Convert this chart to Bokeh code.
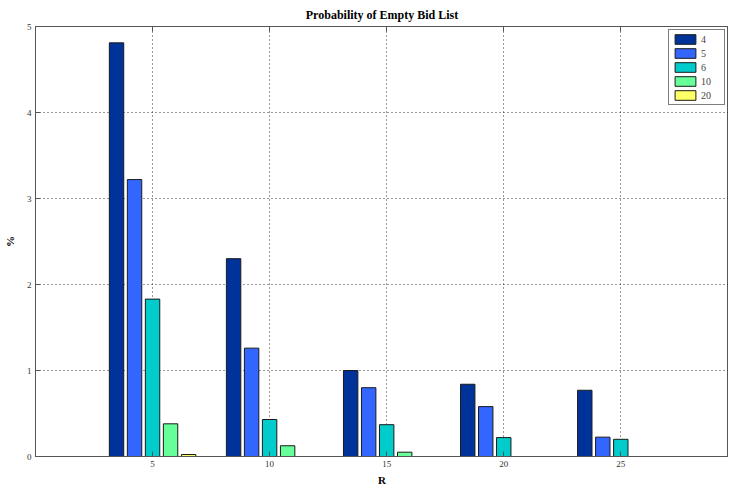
from bokeh.plotting import figure
from bokeh.models import ColumnDataSource, Range1d, FixedTicker, LinearAxis, Legend, LegendItem
from bokeh.embed import file_html
from bokeh.resources import INLINE

# Data
R_values = [5, 10, 15, 20, 25]
series_names = ["4", "5", "6", "10", "20"]
s4 = [4.81, 2.30, 1.00, 0.84, 0.77]
s5 = [3.22, 1.26, 0.80, 0.58, 0.225]
s6 = [1.83, 0.43, 0.37, 0.22, 0.20]
s10 = [0.38, 0.125, 0.05, 0.0, 0.0]
s20 = [0.023, 0.0, 0.0, 0.0, 0.0]
series_values = [s4, s5, s6, s10, s20]
colors = ["#00339A", "#3366FF", "#00CCCC", "#66FF99", "#FFFF66"]
x_ticks = [5, 10, 15, 20, 25]
y_ticks = [0, 1, 2, 3, 4, 5]

serif = "Liberation Serif"

p = figure(width=728, height=488, output_backend="svg", toolbar_location=None,
           x_range=Range1d(0, 29.6), y_range=Range1d(0, 5),
           min_border_left=0, min_border_right=0, min_border_top=0, min_border_bottom=0,
           background_fill_color="white", border_fill_color="white")

p.title.text = "Probability of Empty Bid List"
p.title.align = "center"
p.title.text_font = serif
p.title.text_font_size = "12px"
p.title.text_font_style = "bold"
p.title.text_color = "black"
p.title.standoff = 10

group_w = 5 * min(0.8, 5 / (5 + 1.5))
step = group_w / 5
bar_w = 0.8 * step

renderers = []
for i, (name, vals, col) in enumerate(zip(series_names, series_values, colors)):
    xs = [r + (i - 2) * step for r in R_values]
    src = ColumnDataSource(dict(x=xs, top=vals))
    rr = p.vbar(x="x", top="top", bottom=0, width=bar_w, source=src,
                fill_color=col, line_color="#1a1a1a", line_width=1)
    renderers.append((name, rr))

p.xaxis.ticker = FixedTicker(ticks=x_ticks)
p.yaxis.ticker = FixedTicker(ticks=y_ticks)

for ax in [p.xaxis[0], p.yaxis[0]]:
    ax.major_tick_in = 5
    ax.major_tick_out = 0
    ax.minor_tick_in = 0
    ax.minor_tick_out = 0
    ax.axis_line_color = "#555555"
    ax.major_tick_line_color = "#555555"
    ax.major_label_text_font = serif
    ax.major_label_text_font_size = "9px"
    ax.major_label_text_color = "#333333"
    ax.axis_label_text_font = serif
    ax.axis_label_text_font_size = "11px"
    ax.axis_label_text_font_style = "bold"
    ax.axis_label_text_color = "black"

p.xaxis.axis_label = "R"
p.yaxis.axis_label = "%"
p.xaxis.major_label_standoff = 4
p.xaxis.axis_label_standoff = 4
p.yaxis.major_label_standoff = 4
p.yaxis.axis_label_standoff = 8

top_axis = LinearAxis(ticker=FixedTicker(ticks=x_ticks), major_tick_in=5, major_tick_out=0,
                      minor_tick_in=0, minor_tick_out=0,
                      major_label_overrides={t: "" for t in x_ticks},
                      major_label_standoff=0, axis_line_color="#555555",
                      major_tick_line_color="#555555")
p.add_layout(top_axis, "above")

p.outline_line_color = "#555555"

for g in [p.xgrid[0], p.ygrid[0]]:
    g.grid_line_color = "#333333"
    g.grid_line_dash = "1 3"
    g.grid_line_width = 1

legend = Legend(items=[LegendItem(label=n, renderers=[r]) for n, r in renderers],
                location="top_right", label_text_font=serif, label_text_font_size="10px",
                glyph_width=26, glyph_height=12, spacing=2, padding=3, margin=3,
                label_standoff=3, label_height=12, border_line_color="black",
                border_line_width=1, background_fill_alpha=1)
p.add_layout(legend)

open("out.html", "w").write(file_html(p, INLINE))
